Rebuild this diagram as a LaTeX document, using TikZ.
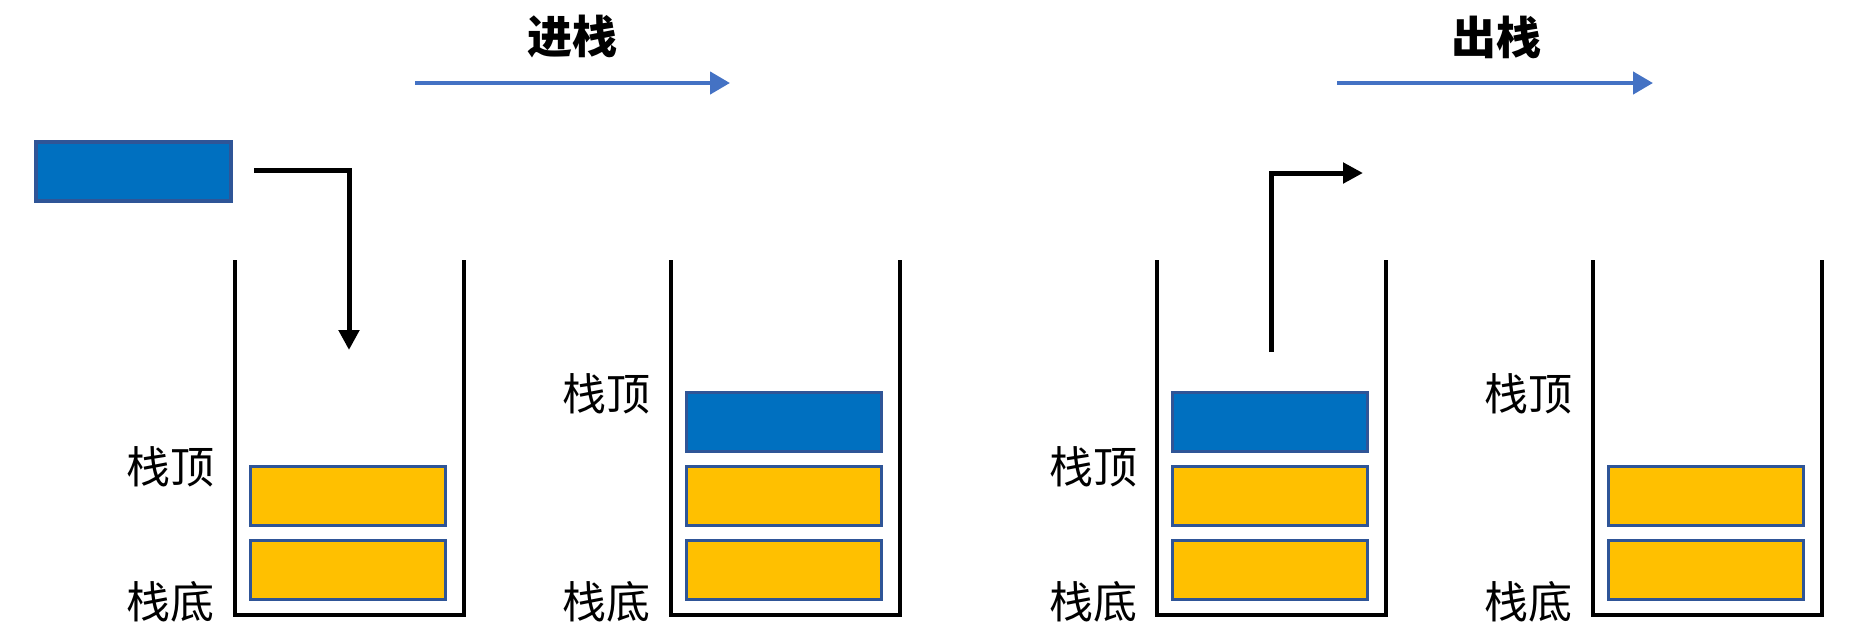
\documentclass[tikz,border=0pt]{standalone}
\usepackage{fontspec}
\newfontfamily\cjk{Noto Sans CJK SC}
\usetikzlibrary{arrows.meta}
\definecolor{boxblue}{HTML}{0070C0}
\definecolor{boxyellow}{HTML}{FFC000}
\definecolor{boxedge}{HTML}{2F5597}
\definecolor{arrowblue}{HTML}{4472C4}
\begin{document}
\begin{tikzpicture}[x=0.5pt,y=-0.5pt,
  item/.style={draw=boxedge, line width=1.6pt, minimum width=97.5pt, minimum height=29.5pt, inner sep=0pt, outer sep=0pt},
  blueitem/.style={item, fill=boxblue},
  yellowitem/.style={item, fill=boxyellow},
  wall/.style={draw=black, line width=1.8pt, line join=miter},
  lab/.style={font=\cjk\fontsize{22pt}{26pt}\selectfont, inner sep=0pt},
  title/.style={font=\cjk\bfseries\fontsize{22.5pt}{26pt}\selectfont, inner sep=0pt},
  flow/.style={draw=arrowblue, line width=2.2pt, -{Triangle[length=10pt,width=11pt]}},
  move/.style={draw=black, line width=2.5pt, -{Triangle[length=10pt,width=10pt]}}
]
\useasboundingbox (0,0) rectangle (1869,639);
% titles and process arrows
\node[title] (t1) at (572,37) {进栈};
\node[title] (t2) at (1496,37) {出栈};
\coordinate (f1s) at (415,83); \coordinate (f1e) at (730,83);
\coordinate (f2s) at (1337,83); \coordinate (f2e) at (1653,83);
\draw[flow] (f1s) -- (f1e);
\draw[flow] (f2s) -- (f2e);
% incoming element
\node[blueitem] (new) at (133.5,171.5) {};
\coordinate (p1s) at (254,170); \coordinate (p1e) at (349,350);
\draw[move] (p1s) -| (p1e);
% stack walls
\foreach \L/\n in {235/1,671/2,1157/3,1593/4}{
  \draw[wall] (\L,260) -- (\L,615) -- (\L+229,615) -- (\L+229,260);
}
% stack 1
\node[yellowitem] (s1a) at (348,570) {};
\node[yellowitem] (s1b) at (348,496) {};
\node[lab] (s1top) at (170,467) {栈顶};
\node[lab] (s1bot) at (170,602) {栈底};
% stack 2
\node[yellowitem] (s2a) at (784,570) {};
\node[yellowitem] (s2b) at (784,496) {};
\node[blueitem] (s2c) at (784,422) {};
\node[lab] (s2top) at (606,394) {栈顶};
\node[lab] (s2bot) at (606,602) {栈底};
% stack 3
\node[yellowitem] (s3a) at (1270,570) {};
\node[yellowitem] (s3b) at (1270,496) {};
\node[blueitem] (s3c) at (1270,422) {};
\node[lab] (s3top) at (1093,467) {栈顶};
\node[lab] (s3bot) at (1093,602) {栈底};
\coordinate (p2s) at (1271,352); \coordinate (p2e) at (1363,173);
\draw[move] (p2s) |- (p2e);
% stack 4
\node[yellowitem] (s4a) at (1706,570) {};
\node[yellowitem] (s4b) at (1706,496) {};
\node[lab] (s4top) at (1528,394) {栈顶};
\node[lab] (s4bot) at (1528,602) {栈底};
\end{tikzpicture}
\end{document}
